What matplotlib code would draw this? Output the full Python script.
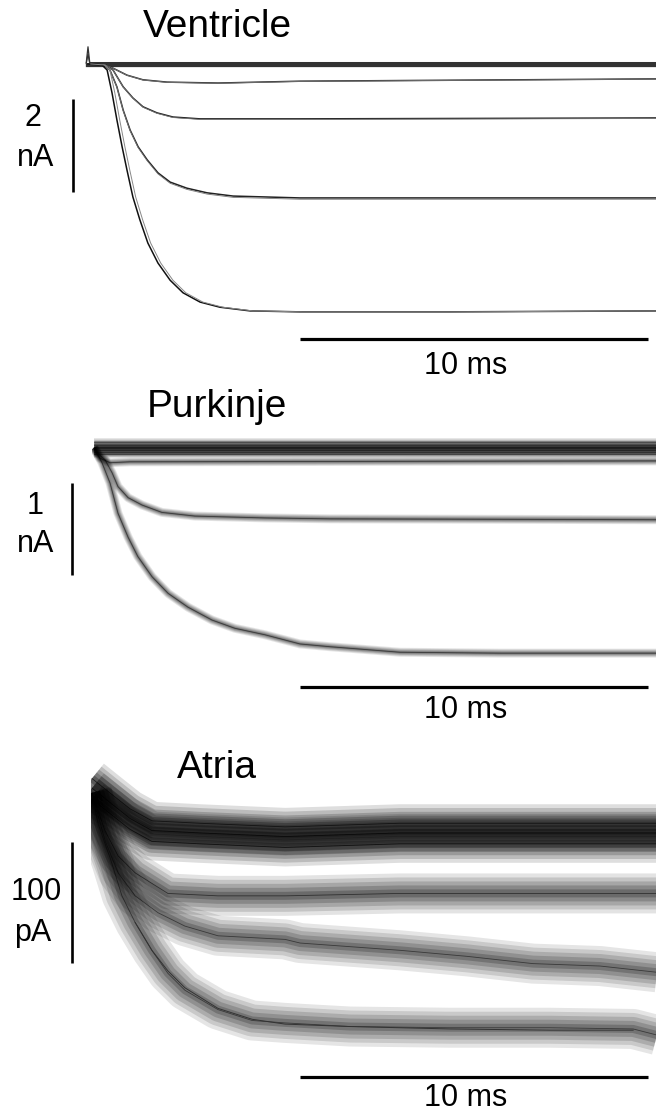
import matplotlib.pyplot as plt
import numpy as np

plt.rcParams['font.family'] = ['Liberation Sans', 'DejaVu Sans']

# ---------------- data ----------------
# Ventricle (time in ms from step onset, current in nA)
vent_t_big = [0, 0.40, 0.55, 0.69, 0.83, 0.98, 1.12, 1.29, 1.49, 1.72, 2.01, 2.36, 2.73, 3.22, 3.79, 4.66, 6.09, 10.4, 16.5]
vent_i_big = [0, -0.02, -0.13, -0.62, -1.20, -1.78, -2.28, -2.86, -3.35, -3.85, -4.28, -4.65, -4.92, -5.12, -5.23, -5.31, -5.33, -5.33, -5.31]
vent_t_2 = [0, 0.45, 0.63, 0.83, 1.01, 1.21, 1.44, 1.70, 2.01, 2.36, 2.84, 3.42, 4.17, 5.14, 6.09, 10.4, 16.5]
vent_i_2 = [0, -0.02, -0.13, -0.49, -0.99, -1.42, -1.78, -2.06, -2.34, -2.54, -2.67, -2.77, -2.84, -2.86, -2.88, -2.88, -2.88]
vent_t_3 = [0, 0.50, 0.72, 1.01, 1.29, 1.58, 1.98, 2.44, 3.22, 6.09, 16.5]
vent_i_3 = [0, -0.02, -0.13, -0.49, -0.73, -0.92, -1.05, -1.14, -1.18, -1.18, -1.16]
vent_t_4 = [0, 0.50, 0.72, 1.12, 1.58, 2.27, 3.74, 6.09, 16.5]
vent_i_4 = [0, -0.02, -0.09, -0.24, -0.34, -0.39, -0.41, -0.37, -0.32]
vent_t_flat = [-0.05, 0.0, 0.05, 0.3, 16.5]
vent_flat_levels = [0.03, 0.01, 0.0, -0.02, -0.04]
vent_spike = [0.34, 0.20, 0.0, 0.0, 0.0]

# Purkinje (ms, nA)
purk_t_big = [0, 0.23, 0.46, 0.69, 0.98, 1.26, 1.67, 2.13, 2.70, 3.39, 4.05, 4.91, 5.92, 6.78, 8.79, 11.67, 16.5]
purk_i_big = [0, -0.16, -0.38, -0.71, -0.97, -1.18, -1.40, -1.58, -1.73, -1.87, -1.96, -2.03, -2.13, -2.16, -2.22, -2.23, -2.23]
purk_t_mid = [0, 0.17, 0.32, 0.52, 0.69, 0.98, 1.38, 1.95, 2.90, 4.91, 6.78, 16.5]
purk_i_mid = [0, -0.08, -0.13, -0.27, -0.42, -0.54, -0.62, -0.70, -0.74, -0.76, -0.77, -0.78]
purk_t_small = [0, 0.17, 0.46, 1.03, 16.5]
purk_i_small = [0, -0.11, -0.16, -0.15, -0.14]
purk_t_flat = [0, 16.5]
purk_flat_levels = [0.06, 0.03, 0.01, 0.0, -0.02, -0.04, -0.06]

# Atria (ms, pA)
atr_t_top = [0, 0.52, 1.09, 1.72, 3.10, 5.55, 8.85, 16.5]
atr_i_top = [4, -8, -21, -31, -33, -36, -33, -33]
atr_top_offsets = [-9, 0, 8]
atr_t_2 = [0, 0.37, 0.75, 1.24, 2.18, 3.62, 5.55, 8.85, 16.5]
atr_i_2 = [0, -31, -52, -66, -83, -85, -85, -83, -83]
atr_t_3 = [0, 0.37, 0.75, 1.24, 1.90, 2.67, 3.62, 5.55, 5.98, 8.85, 10.78, 12.67, 14.60, 16.5]
atr_i_3 = [0, -39, -66, -85, -99, -110, -118, -121, -124, -130, -135, -141, -143, -149]
atr_t_4 = [0, 0.17, 0.57, 0.86, 1.24, 1.72, 2.18, 2.67, 3.62, 4.60, 5.55, 7.41, 10.29, 13.16, 15.55, 16.5]
atr_i_4 = [0, -25, -58, -85, -107, -130, -149, -163, -179, -188, -190, -193, -194, -194, -195, -202]
atr_fit_t = [1.24, 1.72, 2.18, 2.67, 3.62, 4.60, 5.55, 7.41, 10.29, 13.16, 15.55]
atr_fit_i = [-105, -128, -145, -159, -176, -185, -189, -191, -193, -194, -194]

W, H = 656, 1115
PX_MS = 34.8

fig = plt.figure(figsize=(W / 100, H / 100), dpi=100)


def panel(x0, y0, px_unit, left):
    # axes from pixel column `left` to the right edge; data coords are (ms, current)
    # with the step onset at pixel (x0, y0)
    ax = fig.add_axes([left / W, 0, (W - left) / W, 1])
    ax.set_xlim((left - x0) / PX_MS, (W - x0) / PX_MS)
    ax.set_ylim((y0 - H) / px_unit, y0 / px_unit)
    ax.axis('off')
    return ax


def to_data(px, py, x0, y0, px_unit):
    return (px - x0) / PX_MS, (y0 - py) / px_unit


def noisy(ax, t, i, band_px, alpha=1.0):
    # noise band drawn as stacked translucent strokes, darker toward the centre
    for frac, a in [(1.0, 0.10), (0.8, 0.12), (0.6, 0.14), (0.4, 0.16), (0.2, 0.2)]:
        ax.plot(t, i, color='k', lw=band_px * frac * 0.72, alpha=a * alpha,
                solid_capstyle='butt', solid_joinstyle='round')
    ax.plot(t, i, color='k', lw=0.6, alpha=0.5 * alpha)


def scale_bars(ax, x0, y0, px_unit, vbar, hbar, size):
    tx, ty1 = to_data(vbar[0], vbar[1], x0, y0, px_unit)
    ax.plot([tx, tx], [ty1, ty1 - size], color='k', lw=1.9,
            solid_capstyle='butt', clip_on=False)
    hx, hy = to_data(hbar[0], hbar[1], x0, y0, px_unit)
    ax.plot([hx, hx + 10], [hy, hy], color='k', lw=2.3, solid_capstyle='butt')


def label(x, y, s, size=22):
    fig.text(x / W, 1 - y / H, s, ha='center', va='center', fontsize=size)


# ---------------- Ventricle ----------------
ax = panel(88, 64, 46.5, 84)
for lvl, sp in zip(vent_flat_levels, vent_spike):
    ax.plot(vent_t_flat, [lvl, lvl + sp, lvl, lvl, lvl], color='#333333', lw=0.9)
for t, i in [(vent_t_4, vent_i_4), (vent_t_3, vent_i_3), (vent_t_2, vent_i_2)]:
    ax.plot(t, i, color='#222222', lw=1.1)
    ax.plot(t, np.array(i) * 1.01, color='#777777', lw=0.6)
ax.plot(vent_t_big, vent_i_big, color='#111111', lw=1.1)
ax.plot(np.array(vent_t_big) + 0.08, vent_i_big, color='#888888', lw=0.7)
scale_bars(ax, 88, 64, 46.5, (73, 99), (300, 339), 2)
label(217, 27, 'Ventricle', 28)
label(33, 118, '2')
label(36, 158, 'nA')
label(466, 366, '10 ms')

# ---------------- Purkinje ----------------
ax = panel(94, 448, 92.0, 92)
for lvl in purk_flat_levels:
    noisy(ax, purk_t_flat, [lvl, lvl], 8, 0.8)
noisy(ax, purk_t_small, purk_i_small, 9, 1.0)
noisy(ax, purk_t_mid, purk_i_mid, 9, 1.0)
noisy(ax, purk_t_big, purk_i_big, 9, 1.0)
scale_bars(ax, 94, 448, 92.0, (72, 483), (300, 687), 1)
label(217, 407, 'Purkinje', 28)
label(35, 506, '1')
label(36, 544, 'nA')
label(466, 710, '10 ms')

# ---------------- Atria ----------------
ax = panel(92, 793, 1.21, 91)
for off in atr_top_offsets:
    noisy(ax, atr_t_top, np.array(atr_i_top) + off, 38, 1.3)
noisy(ax, atr_t_2, atr_i_2, 40, 1.1)
noisy(ax, atr_t_3, atr_i_3, 40, 1.0)
noisy(ax, atr_t_4, atr_i_4, 40, 1.0)
ax.plot(atr_fit_t, np.array(atr_fit_i) - 2, color='#333333', lw=0.7)
scale_bars(ax, 92, 793, 1.21, (72, 842), (300, 1077), 100)
label(217, 768, 'Atria', 28)
label(36, 892, '100')
label(33, 933, 'pA')
label(466, 1098, '10 ms')

fig.savefig('out.png', dpi=100)
